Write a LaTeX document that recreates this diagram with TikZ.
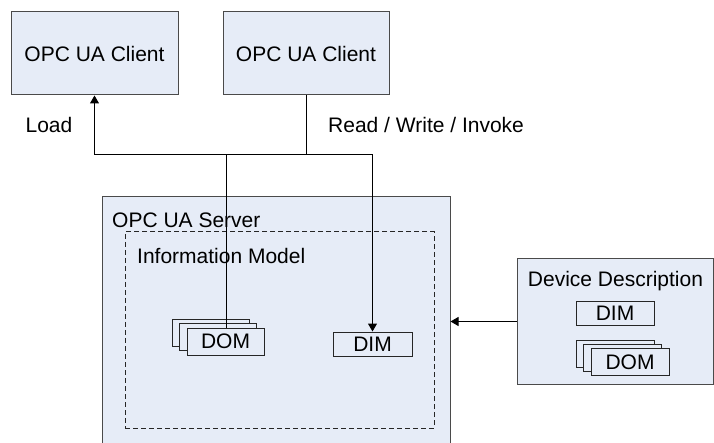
\documentclass[tikz,border=0pt]{standalone}
\usepackage{fontspec}
\setmainfont{Liberation Sans}
\usetikzlibrary{arrows.meta}
\definecolor{boxfill}{HTML}{E6ECF7}
\definecolor{boxline}{HTML}{4A4A4A}
\tikzset{
  txt/.style={font=\fontsize{21}{25}\selectfont, inner sep=0pt},
  bigbox/.style={draw=boxline, fill=boxfill, line width=1pt, inner sep=0pt},
  smallbox/.style={draw=black!85, fill=boxfill, line width=1pt, inner sep=0pt,
    minimum width=77pt, minimum height=27pt, font=\fontsize{21}{25}\selectfont},
  conn/.style={draw=black, line width=1pt},
  arr/.style={conn, -{Triangle[width=9pt,length=8pt]}}
}
\begin{document}
\begin{tikzpicture}[x=1pt,y=-1pt]
\useasboundingbox (0,0) rectangle (714,443);
\clip (0,0) rectangle (714,443);
\fill[white] (0,0) rectangle (714,443);

% clients
\node[bigbox, minimum width=167pt, minimum height=83pt] (c1) at (94.5,53.5) {};
\node[txt] at (c1) {OPC UA Client};
\node[bigbox, minimum width=166pt, minimum height=83pt] (c2) at (306,53.5) {};
\node[txt] at (c2) {OPC UA Client};

\node[txt] (load) at (49,124.5) {Load};
\node[txt, anchor=west] (rwi) at (328,124.5) {Read / Write / Invoke};

% server (runs past the lower edge)
\node[bigbox, minimum width=348pt, minimum height=270pt] (server) at (276,332) {};
\node[txt, anchor=west] (stitle) at (112,220) {OPC UA Server};
\node[draw=black!85, dashed, line width=1pt, dash pattern=on 5pt off 3pt,
      minimum width=309pt, minimum height=196pt, inner sep=0pt] (im) at (279.5,330) {};
\node[txt, anchor=west] (imtitle) at (137,255.5) {Information Model};

% DOM stack and DIM in the information model
\node[smallbox] (domA) at (210.5,333) {};
\node[smallbox] (domB) at (218,337) {};
\node[smallbox] (domF) at (225.5,341.5) {DOM};
\node[smallbox, minimum width=79pt, minimum height=24pt] (dim) at (372.5,344) {DIM};

% device description
\node[bigbox, minimum width=196pt, minimum height=125pt] (dd) at (615,321.5) {};
\node[txt] (ddtitle) at (615.5,281) {Device Description};
\node[smallbox, minimum width=78pt, minimum height=23pt] (ddim) at (615,313.5) {DIM};
\node[smallbox, minimum width=78pt] (ddomA) at (615,354) {};
\node[smallbox, minimum width=78pt] (ddomB) at (622.5,358) {};
\node[smallbox, minimum width=78pt] (ddomF) at (630,362) {DOM};

% connectors: one shared bus line joins the load and access paths
\coordinate (jL) at (226,155);
\coordinate (jR) at (306,155);
\draw[arr] (domF.north -| jL) -- (jL) -| (c1.south);
\draw[conn] (jL) -- (jR);
\draw[arr] (c2.south) -- (jR) -| (dim.north);
\draw[arr] (dd.west) -- (server.east |- dd.west);
\end{tikzpicture}
\end{document}
